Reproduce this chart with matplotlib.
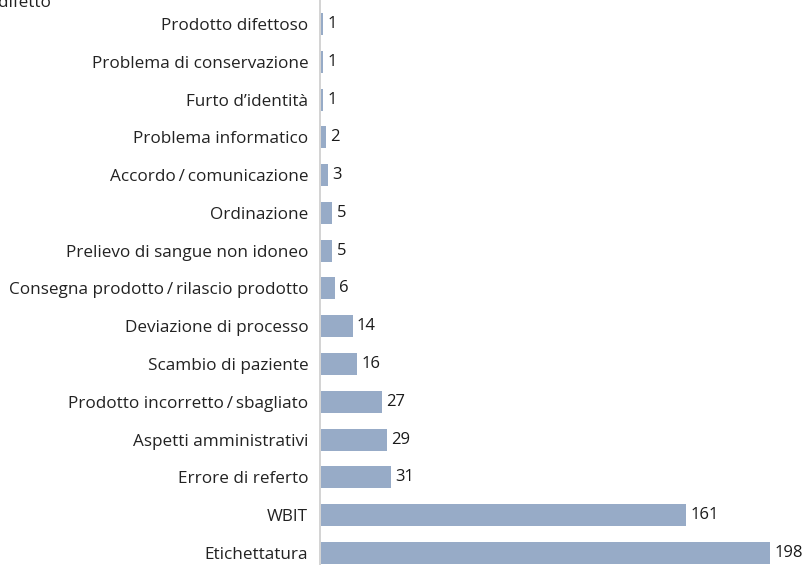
import matplotlib.pyplot as plt

categories = [
    "Prodotto difettoso",
    "Problema di conservazione",
    "Furto d\u2019identità",
    "Problema informatico",
    "Accordo\u2009/\u2009comunicazione",
    "Ordinazione",
    "Prelievo di sangue non idoneo",
    "Consegna prodotto\u2009/\u2009rilascio prodotto",
    "Deviazione di processo",
    "Scambio di paziente",
    "Prodotto incorretto\u2009/\u2009sbagliato",
    "Aspetti amministrativi",
    "Errore di referto",
    "WBIT",
    "Etichettatura",
]
values = [1, 1, 1, 2, 3, 5, 5, 6, 14, 16, 27, 29, 31, 161, 198]

plt.rcParams['font.family'] = ['Open Sans', 'DejaVu Sans']

W, H = 807, 565
fig = plt.figure(figsize=(W / 100, H / 100), dpi=100)
ax = fig.add_axes([320 / W, 0, (W - 320) / W, 1])

pos = list(range(len(categories)))
ax.barh(pos, values, height=0.58, color='#97abc7')
ax.set_ylim(14.32, -0.635)
ax.set_xlim(-0.45, 214.3)

ax.set_yticks(pos)
ax.set_yticklabels(categories, fontsize=12.3, color='#222222')
ax.tick_params(axis='y', length=0, pad=8.5)
ax.set_xticks([])
for s in ['top', 'right', 'bottom']:
    ax.spines[s].set_visible(False)
ax.spines['left'].set_color('#cccccc')
ax.spines['left'].set_linewidth(1.2)

for p, v in zip(pos, values):
    ax.annotate(str(v), (v, p), xytext=(3, 0), textcoords='offset points',
                va='center', ha='left', fontsize=12, color='#1a1a1a')

fig.text(51 / W, 1 - 7 / H, "difetto", ha='right', va='baseline',
         fontsize=12.3, color='#222222')

fig.savefig('out.png', dpi=100)
